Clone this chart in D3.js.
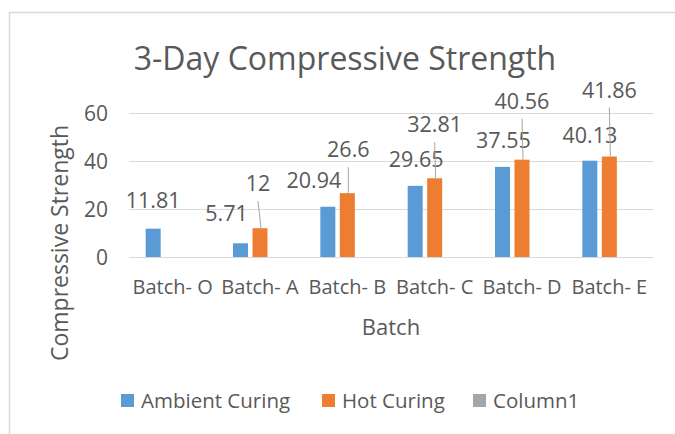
<!DOCTYPE html>
<html>
<head>
<meta charset="utf-8">
<title>3-Day Compressive Strength</title>
<script src="https://d3js.org/d3.v7.min.js"></script>
<style>
  body { margin: 0; background: #fff; }
  text { font-family: "Open Sans", sans-serif; fill: #595959; }
</style>
</head>
<body>
<svg width="675" height="434"></svg>
<script>
// data
const batches = ["Batch- O", "Batch- A", "Batch- B", "Batch- C", "Batch- D", "Batch- E"]
const seriesNames = ["Ambient Curing", "Hot Curing", "Column1"]
const ambient = [11.81, 5.71, 20.94, 29.65, 37.55, 40.13]
const hot = [null, 12, 26.6, 32.81, 40.56, 41.86]
const column1 = [null, null, null, null, null, null]
const yTicks = [0, 20, 40, 60]

// manual label placement (the labels were dragged in the original)
const ambLabelDx = [0, -14, -14, 1, 1, 0]
const ambLabelLift = [21, 22, 19, 19, 19, 18]
const hotLabelDx = [0, -2, 1, 0, 0, 0]
const hotLabelLift = [0, 37, 36, 46, 51, 59]

const colors = { "Ambient Curing": "#5B9BD5", "Hot Curing": "#ED7D31", "Column1": "#A5A5A5" }

const svg = d3.select("svg")
const margin = { top: 113, left: 129, right: 22, bottom: 177 }
const width = +svg.attr("width")
const height = +svg.attr("height")

// chart border
svg.append("rect")
    .attr("x", 9.5).attr("y", 12.5)
    .attr("width", 700).attr("height", 500)
    .attr("fill", "none").attr("stroke", "#D9D9D9").attr("stroke-width", 1.5)

svg.append("text")
    .attr("x", 345).attr("y", 70)
    .attr("text-anchor", "middle")
    .style("font-size", "32px")
    .text("3-Day Compressive Strength")

const x0 = d3.scaleBand()
    .domain(batches)
    .range([margin.left, width - margin.right])
const bw = x0.bandwidth()
const x1 = d3.scaleBand()
    .domain(seriesNames)
    .range([bw / 2 - 27, bw / 2 + 27])
    .paddingInner(0.23)
const y = d3.scaleLinear()
    .domain([0, 60])
    .range([height - margin.bottom, margin.top])

// gridlines + y labels
const yAxis = d3.axisLeft(y).tickValues(yTicks).tickSize(-(width - margin.left - margin.right)).tickPadding(21)
const gy = svg.append("g").attr("transform", `translate(${margin.left},0)`).call(yAxis)
gy.select(".domain").remove()
gy.selectAll("line").attr("stroke", "#D9D9D9")
gy.selectAll("text").style("font-size", "21px").attr("fill", "#595959").attr("dy", "0.36em")

// x axis
const xAxis = d3.axisBottom(x0).tickSize(0).tickPadding(23)
const gx = svg.append("g").attr("transform", `translate(0,${y(0)})`).call(xAxis)
gx.select(".domain").attr("stroke", "#D9D9D9")
gx.selectAll("text").style("font-size", "20px").attr("fill", "#595959")

svg.append("text")
    .attr("x", (margin.left + width - margin.right) / 2).attr("y", 335)
    .attr("text-anchor", "middle")
    .style("font-size", "22px")
    .text("Batch")

svg.append("text")
    .attr("transform", "translate(68,243) rotate(-90)")
    .attr("text-anchor", "middle")
    .style("font-size", "23px")
    .text("Compressive Strength")

// bars
const rows = batches.map((b, i) => ({ batch: b, i: i, values: [
    { key: "Ambient Curing", v: ambient[i] },
    { key: "Hot Curing", v: hot[i] },
    { key: "Column1", v: column1[i] }] }))

const groups = svg.append("g").selectAll("g")
    .data(rows)
    .enter().append("g")
    .attr("transform", d => `translate(${x0(d.batch)},0)`)

groups.selectAll("rect")
    .data(d => d.values.filter(v => v.v != null))
    .enter().append("rect")
    .attr("x", d => x1(d.key))
    .attr("y", d => y(d.v))
    .attr("width", x1.bandwidth())
    .attr("height", d => y(0) - y(d.v))
    .attr("fill", d => colors[d.key])

// data labels
const lbl = svg.append("g")
batches.forEach((b, i) => {
    const ax = x0(b) + x1("Ambient Curing") + x1.bandwidth() / 2
    lbl.append("text")
        .attr("x", ax + ambLabelDx[i])
        .attr("y", y(ambient[i]) - ambLabelLift[i])
        .attr("text-anchor", "middle")
        .style("font-size", "21.5px")
        .text(ambient[i])
    if (hot[i] != null) {
        const hx = x0(b) + x1("Hot Curing") + x1.bandwidth() / 2
        const ty = y(hot[i]) - hotLabelLift[i]
        lbl.append("line")
            .attr("x1", hx + hotLabelDx[i]).attr("y1", ty + 10)
            .attr("x2", hx + 1).attr("y2", y(hot[i]))
            .attr("stroke", "#A6A6A6").attr("stroke-width", 1)
        lbl.append("text")
            .attr("x", hx + hotLabelDx[i])
            .attr("y", ty)
            .attr("text-anchor", "middle")
            .style("font-size", "21.5px")
            .text(hot[i])
    }
})

// legend
const legendX = [121, 322, 473]
const legend = svg.append("g")
seriesNames.forEach((s, i) => {
    legend.append("rect")
        .attr("x", legendX[i]).attr("y", 394)
        .attr("width", 13).attr("height", 13)
        .attr("fill", colors[s])
    legend.append("text")
        .attr("x", legendX[i] + 20).attr("y", 408)
        .style("font-size", "20.5px")
        .text(s)
})
</script>
</body>
</html>
